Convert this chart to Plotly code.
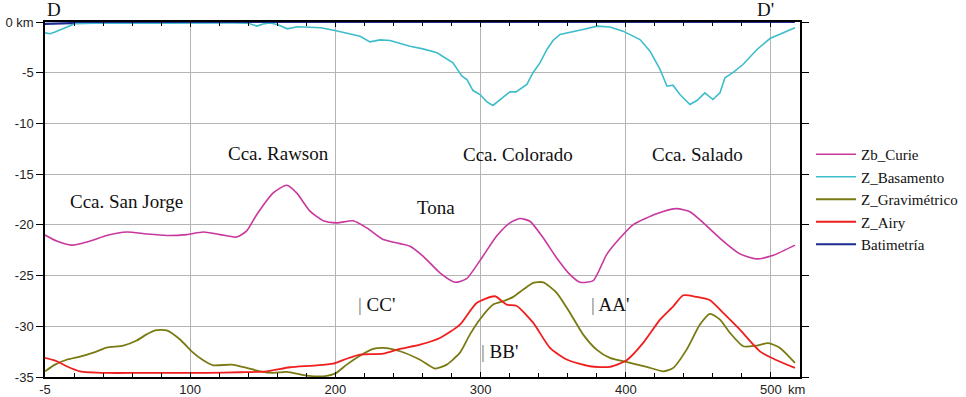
import plotly.graph_objects as go

# ---- data (distance along profile, depth in km) ----
basamento_x = [0, 3.4, 6.9, 12.4, 17.2, 20.7, 40, 70, 100, 130, 140, 146, 150, 155, 160, 167, 173.7,
               190, 199.7, 217, 223.8, 230.7, 237.6, 251.4, 260.3, 270, 281, 287.2, 290.6, 294.8,
               299.6, 304.4, 308.5, 313.4, 320.2, 324.4, 331.9, 336.1, 340.9, 345.7, 349.9, 354.7,
               366.4, 370.5, 380.2, 389.1, 398.1, 409.8, 416.7, 423.6, 428.4, 432.5, 437.3, 444.2,
               449, 454.5, 460, 464.9, 468.3, 473.8, 480.7, 490.4, 499.3, 508.3, 516.5]
basamento_y = [-1.07, -1.16, -0.98, -0.69, -0.36, -0.16, -0.1, -0.12, -0.08, -0.1, -0.12, -0.4, -0.2,
               -0.1, -0.25, -0.67, -0.47, -0.57, -0.84, -1.4, -1.96, -1.76, -1.82, -2.4, -2.65, -3.04,
               -4.03, -5.34, -5.67, -6.76, -7.15, -7.87, -8.23, -7.64, -6.89, -6.89, -6.16, -5.0,
               -4.03, -2.71, -1.82, -1.23, -0.9, -0.74, -0.41, -0.5, -0.9, -1.73, -2.88, -4.68,
               -6.33, -6.23, -7.15, -8.14, -7.74, -6.98, -7.64, -6.98, -5.5, -5.0, -4.19, -2.71,
               -1.63, -1.07, -0.57]

curie_x = [0, 8.1, 18.4, 31.0, 42.5, 56.3, 70.0, 83.8, 97.6, 109.0, 120.5, 132.0, 138.9, 145.8,
           157.2, 166.5, 173.3, 182.5, 191.7, 200.9, 212.3, 221.6, 233.0, 244.5, 251.4, 260.5,
           272.0, 282.4, 290.4, 300.8, 311.1, 320.2, 327.1, 334.0, 343.2, 352.4, 361.6, 368.5,
           377.6, 386.8, 396.0, 405.2, 421.3, 435.0, 444.2, 453.4, 467.1, 478.6, 490.1, 501.6, 516.5]
curie_y = [-21.0, -21.6, -22.0, -21.6, -21.05, -20.7, -20.9, -21.05, -20.96, -20.7, -20.96, -21.2,
           -20.6, -19.0, -16.85, -16.1, -16.85, -18.65, -19.6, -19.8, -19.6, -20.3, -21.45, -21.85,
           -22.1, -23.1, -24.73, -25.66, -25.3, -23.26, -21.1, -19.8, -19.38, -19.64, -21.3,
           -23.26, -24.9, -25.66, -25.5, -22.93, -21.3, -19.97, -18.9, -18.4, -18.7, -19.8, -21.6,
           -22.86, -23.35, -23.0, -22.0]

grav_x = [0, 6.9, 14.9, 24.1, 33.3, 42.5, 53.9, 63.2, 70.0, 75.8, 83.8, 93.0, 101.0, 109.0, 115.9,
          128.6, 138.9, 148.1, 157.2, 166.5, 180.2, 191.7, 199.7, 207.8, 216.9, 226.1, 233.0,
          244.5, 258.3, 268.6, 276.7, 285.8, 292.7, 299.6, 308.7, 315.6, 322.5, 329.4, 336.3,
          343.2, 352.4, 361.6, 370.7, 379.9, 389.1, 402.9, 414.4, 425.9, 432.7, 441.9, 451.1,
          458.0, 464.9, 471.8, 480.9, 490.1, 498.1, 506.2, 516.5]
grav_y = [-34.44, -33.78, -33.3, -33.0, -32.6, -32.1, -31.9, -31.4, -30.8, -30.4, -30.4, -31.3,
          -32.47, -33.35, -33.85, -33.78, -34.1, -34.44, -34.6, -34.5, -34.86, -34.93, -34.67,
          -33.78, -32.9, -32.23, -32.13, -32.46, -33.3, -34.17, -33.78, -32.6, -30.8, -29.3,
          -27.86, -27.53, -27.1, -26.38, -25.72, -25.66, -26.7, -28.68, -30.82, -32.3, -33.12,
          -33.6, -34.0, -34.44, -34.1, -32.3, -29.83, -28.78, -29.34, -30.65, -31.97, -31.9,
          -31.66, -32.13, -33.6]

airy_x = [0, 8.1, 14.9, 24.1, 42.5, 65.4, 88.4, 111.4, 134.3, 152.7, 168.7, 184.8, 198.6, 207.8,
          216.9, 233.0, 244.5, 258.3, 272.0, 285.8, 297.3, 309.9, 318.0, 324.9, 336.3, 347.8,
          359.3, 375.3, 389.1, 400.6, 412.0, 423.6, 432.7, 439.6, 448.8, 458.0, 467.1, 478.6,
          492.4, 503.9, 516.5]
airy_y = [-33.12, -33.45, -33.94, -34.44, -34.6, -34.6, -34.6, -34.6, -34.53, -34.44, -34.04,
          -33.88, -33.68, -33.2, -32.8, -32.7, -32.23, -31.8, -31.15, -29.83, -27.7, -27.04,
          -27.86, -28.0, -29.67, -32.13, -33.28, -33.94, -34.0, -33.35, -31.64, -29.34, -28.03,
          -26.94, -27.1, -27.43, -28.68, -30.33, -32.47, -33.35, -34.1]

bati_x = [0, 5, 10, 18, 21, 100, 200, 300, 400, 516.5]
bati_y = [-0.18, -0.18, -0.15, -0.12, 0, 0, 0, 0, 0, 0]

x_tickvals = [0, 100, 200, 300, 400, 500]
x_ticktext = ["-5", "100", "200", "300", "400", "500"]
y_tickvals = [0, -5, -10, -15, -20, -25, -30, -35]
y_ticktext = ["0 km", "-5", "-10", "-15", "-20", "-25", "-30", "-35"]

labels = [
    ("Cca. Rawson", 160.5, -12.97),
    ("Cca. Colorado", 325.8, -13.07),
    ("Cca. Salado", 449.7, -13.07),
    ("Cca. San Jorge", 55.8, -17.7),
    ("Tona", 269.3, -18.3),
]
section_marks = [
    ("CC'", 228.0, -27.86),
    ("AA'", 388.8, -27.86),
    ("BB'", 313.0, -32.47),
]

SERIF = "Liberation Serif, Times New Roman, serif"
SANS = "Liberation Sans, Arial, sans-serif"

fig = go.Figure()
fig.add_trace(go.Scatter(x=curie_x, y=curie_y, name="Zb_Curie", mode="lines",
                         line=dict(color="#C8379E", width=1.6, shape="spline", smoothing=0.6)))
fig.add_trace(go.Scatter(x=basamento_x, y=basamento_y, name="Z_Basamento", mode="lines",
                         line=dict(color="#3DBDCB", width=1.6)))
fig.add_trace(go.Scatter(x=grav_x, y=grav_y, name="Z_Gravimétrico", mode="lines",
                         line=dict(color="#7A7A12", width=1.8, shape="spline", smoothing=0.6)))
fig.add_trace(go.Scatter(x=airy_x, y=airy_y, name="Z_Airy", mode="lines",
                         line=dict(color="#F01E1E", width=1.8, shape="spline", smoothing=0.6)))
fig.add_trace(go.Scatter(x=bati_x, y=bati_y, name="Batimetría", mode="lines", cliponaxis=False,
                         line=dict(color="#1B2A8E", width=2.2)))

for text, x, y in labels:
    fig.add_annotation(x=x, y=y, text=text, showarrow=False,
                       font=dict(family=SERIF, size=19, color="#111"))
for text, x, y in section_marks:
    fig.add_annotation(x=x, y=y, text="<span style='color:#777'>|</span> " + text, showarrow=False,
                       font=dict(family=SERIF, size=19, color="#111"))

fig.add_annotation(x=0, xref="x", y=1.034, yref="paper", text="D", showarrow=False,
                   xanchor="left", yanchor="middle", font=dict(family=SERIF, size=19, color="#111"))
fig.add_annotation(x=496, xref="x", y=1.034, yref="paper", text="D'", showarrow=False,
                   xanchor="center", yanchor="middle", font=dict(family=SERIF, size=19, color="#111"))
fig.add_annotation(x=500, xref="x", y=0, yref="paper", text="km", showarrow=False,
                   xanchor="left", yanchor="top", xshift=15, yshift=-3,
                   font=dict(family=SANS, size=13, color="#222"))

fig.update_layout(
    width=966, height=397,
    font=dict(family=SERIF, size=15, color="#111"),
    margin=dict(l=45, r=166, t=22, b=20, autoexpand=False),
    paper_bgcolor="white", plot_bgcolor="white",
    showlegend=True,
    legend=dict(x=1.0146, xanchor="left", y=0.5, yanchor="middle",
                font=dict(family=SERIF, size=15, color="#111"),
                itemwidth=40, tracegroupgap=0, bgcolor="rgba(0,0,0,0)"),
    xaxis=dict(range=[0, 520], tickvals=x_tickvals, ticktext=x_ticktext,
               ticks="inside", ticklen=5, tickcolor="black",
               minor=dict(dtick=20, tick0=0, ticks="inside", ticklen=4, tickcolor="black", showgrid=False),
               showgrid=True, gridcolor="#B4B4B4", gridwidth=1,
               showline=True, linecolor="black", linewidth=1.5, mirror="ticks",
               zeroline=False, tickfont=dict(family=SANS, size=13, color="#222")),
    yaxis=dict(range=[-35, 0], tickvals=y_tickvals, ticktext=y_ticktext,
               ticks="outside", ticklen=7, tickcolor="black",
               showgrid=True, gridcolor="#B4B4B4", gridwidth=1,
               showline=True, linecolor="black", linewidth=1.5, mirror="ticks",
               zeroline=False, tickfont=dict(family=SANS, size=13, color="#222")),
)

fig.write_html("out.html", config={"displayModeBar": False},
               post_script="document.body.style.margin='0px';document.body.style.overflow='hidden';")
